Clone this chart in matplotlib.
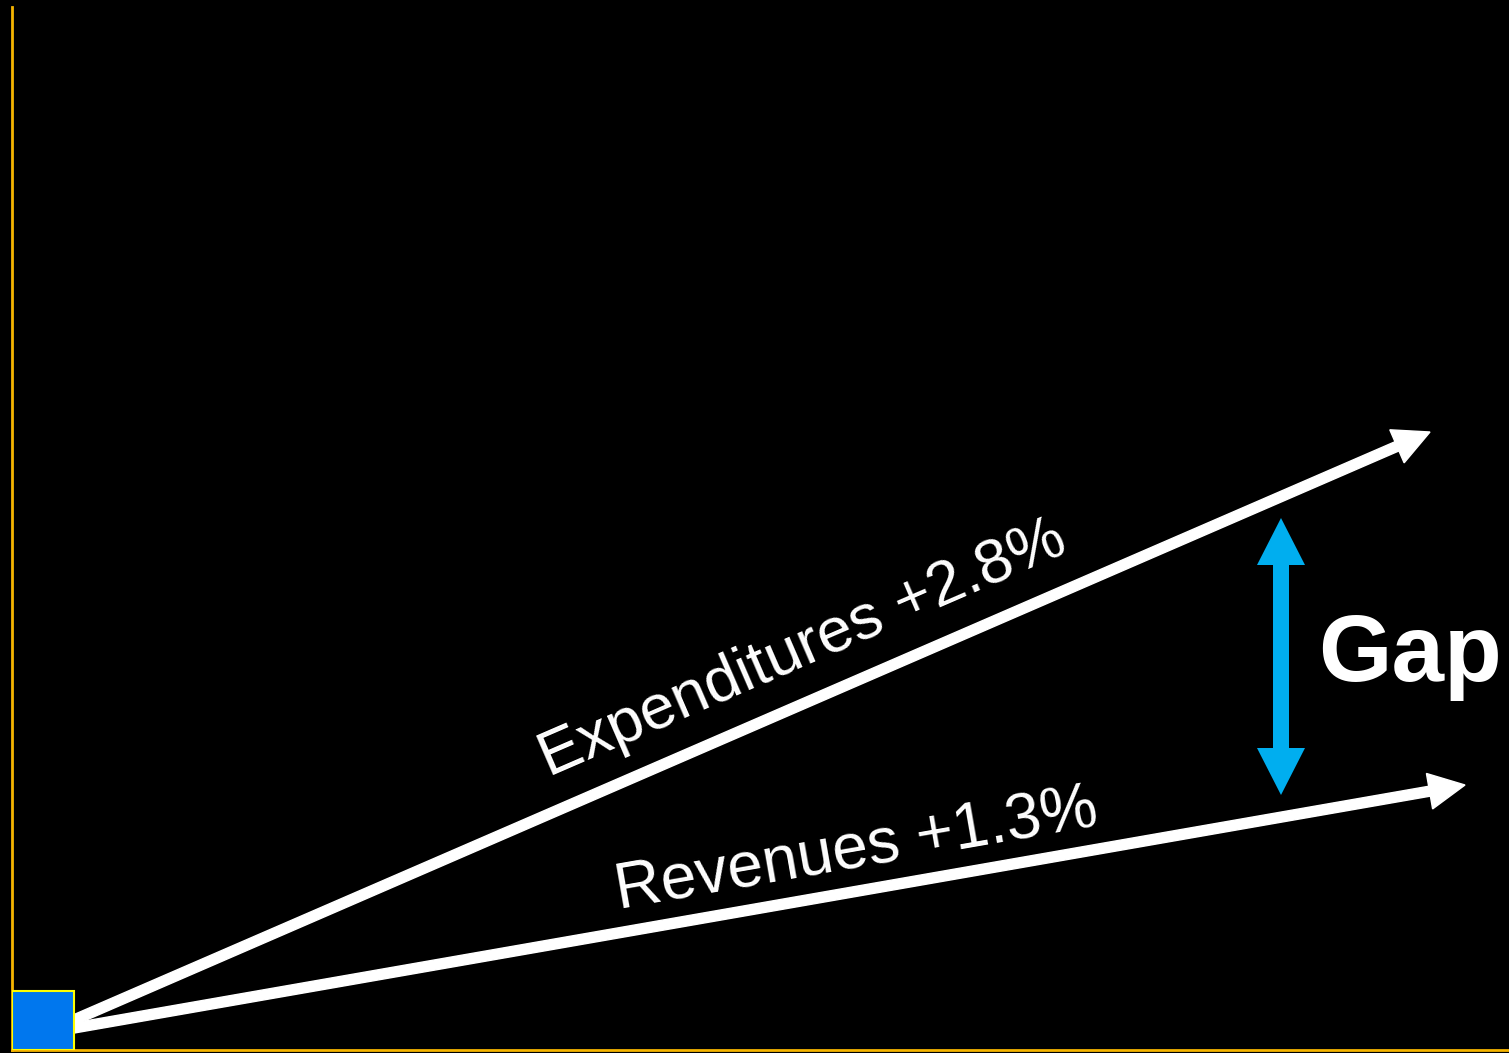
import numpy as np
import matplotlib
matplotlib.use('Agg')
from matplotlib import pyplot as plt
from matplotlib.patches import FancyArrow, Rectangle, Polygon

plt.rcParams['font.family'] = ['Liberation Sans', 'DejaVu Sans']

# growth paths, in pixel-like units from the common starting point
labels = ['Expenditures +2.8%', 'Revenues +1.3%']
start_x = [62, 62]
start_y = [30, 22]
end_x = [1418, 1453]
end_y = [618, 265]
label_x = [797, 848]
label_y = [386, 183]
label_size = [45.5, 46]

# the gap marker between the two paths
gap_x = 1269
gap_lo, gap_hi = 255, 532
gap_text = 'Gap'

fig = plt.figure(figsize=(15.09, 10.53), dpi=100, facecolor='black')
ax = fig.add_axes([12/1509, 3/1053, 1497/1509, 1043/1053], facecolor='black')
ax.set_xlim(0, 1497)
ax.set_ylim(0, 1043)

for s in ['top', 'right']:
    ax.spines[s].set_visible(False)
for s in ['left', 'bottom']:
    ax.spines[s].set_color('#F5B400')
    ax.spines[s].set_linewidth(2)
ax.set_xticks([])
ax.set_yticks([])

# starting box
ax.add_patch(Rectangle((0, 0), 62, 59, facecolor='#0077EE', edgecolor='#FFFF00',
                       linewidth=1.5, zorder=3))

for i in range(2):
    dx = end_x[i] - start_x[i]
    dy = end_y[i] - start_y[i]
    ax.add_patch(FancyArrow(start_x[i], start_y[i], dx, dy, width=10,
                            head_width=36, head_length=36,
                            length_includes_head=True, color='white', zorder=2))
    ang = np.degrees(np.arctan2(dy, dx))
    ax.text(label_x[i], label_y[i], labels[i], rotation=ang, rotation_mode='anchor',
            ha='center', va='baseline', color='white', fontsize=label_size[i])

# double headed arrow as one polygon
hw, hl, sw = 24, 47, 8
pts = [(gap_x, gap_hi), (gap_x + hw, gap_hi - hl), (gap_x + sw, gap_hi - hl),
       (gap_x + sw, gap_lo + hl), (gap_x + hw, gap_lo + hl), (gap_x, gap_lo),
       (gap_x - hw, gap_lo + hl), (gap_x - sw, gap_lo + hl),
       (gap_x - sw, gap_hi - hl), (gap_x - hw, gap_hi - hl)]
ax.add_patch(Polygon(pts, closed=True, facecolor='#00AEEF', edgecolor='none'))

mid = (gap_lo + gap_hi) / 2
ax.text(gap_x + 37, mid, gap_text, color='white', fontsize=68, fontweight='bold',
        ha='left', va='center')

fig.savefig('out.png', dpi=100, facecolor='black')
